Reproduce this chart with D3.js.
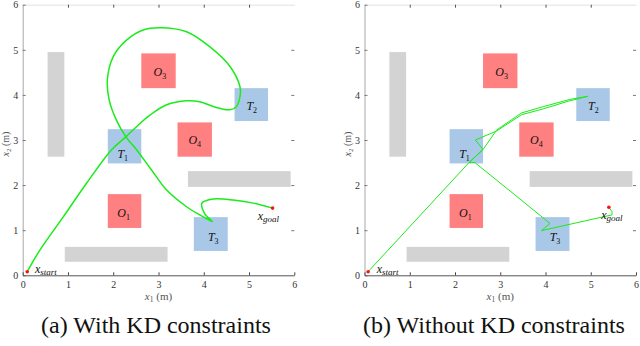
<!DOCTYPE html>
<html>
<head>
<meta charset="utf-8">
<script src="https://cdn.jsdelivr.net/npm/d3@7"></script>
<style>
  body { margin: 0; background: #fff; }
  svg { display: block; }
  text { font-family: "Liberation Serif", "DejaVu Serif", serif; }
</style>
</head>
<body>
<div id="main"></div>
<script>
// axis ticks (both axes 0..6 m)
var ticks = [0, 1, 2, 3, 4, 5, 6];

// gray walls: [x0, x1, y0, y1]
var walls = [[0.55, 0.92, 2.63, 4.95], [0.93, 3.2, 0.3, 0.63], [3.65, 5.92, 1.96, 2.31]];
// red obstacles O_i: [sub, x0, x1, y0, y1]
var obstacles = [["1", 1.88, 2.62, 1.05, 1.80], ["3", 2.62, 3.38, 4.15, 4.92], ["4", 3.42, 4.18, 2.63, 3.39]];
// blue targets T_i: [sub, x0, x1, y0, y1]
var targets = [["1", 1.88, 2.62, 2.48, 3.24], ["2", 4.68, 5.42, 3.42, 4.15], ["3", 3.78, 4.53, 0.54, 1.29]];
// label centres
var obstacleLabels = [[2.23, 1.38], [3.03, 4.51], [3.80, 3.0]];
var targetLabels = [[2.21, 2.70], [5.06, 3.75], [4.21, 0.85]];

var startKD = [0.1, 0.08], goalKD = [5.52, 1.49];
var startNoKD = [0.08, 0.08], goalNoKD = [5.40, 1.51];
var startLabelKD = [0.27, 0.05], goalLabelKD = [5.19, 1.23];
var startLabelNoKD = [0.27, 0.05], goalLabelNoKD = [5.23, 1.24];

// trajectory with KD constraints (smooth)
var pathKD = [[0.1, 0.08], [0.38, 0.56], [0.9, 1.3], [1.41, 2.04], [1.96, 2.78], [2.28, 3.07], [2.52, 3.30],
  [2.81, 3.55], [3.18, 3.78], [3.62, 3.87], [3.91, 3.85], [4.28, 3.72], [4.58, 3.67], [4.72, 3.74],
  [4.80, 3.96], [4.80, 4.18], [4.58, 4.63], [4.13, 5.07], [3.62, 5.40], [3.05, 5.49], [2.66, 5.44],
  [2.30, 5.22], [2.0, 4.85], [1.87, 4.33], [1.91, 3.89], [2.07, 3.44], [2.28, 3.07], [2.52, 2.78],
  [2.85, 2.33], [3.18, 1.89], [3.62, 1.52], [3.91, 1.34], [4.13, 1.22], [4.19, 1.19], [4.02, 1.37],
  [3.96, 1.60], [4.21, 1.69], [4.65, 1.67], [5.09, 1.60], [5.52, 1.49]];

// trajectory without KD constraints (piecewise linear)
var pathNoKD = [[0.08, 0.08], [2.31, 2.50], [2.62, 2.79], [2.92, 3.22], [3.47, 3.60], [3.95, 3.74],
  [4.54, 3.90], [4.94, 3.97], [4.50, 3.86], [3.95, 3.69], [3.47, 3.56], [2.92, 3.20], [2.45, 3.0],
  [2.62, 2.79], [2.31, 2.50], [2.44, 2.50], [4.10, 1.15], [3.91, 0.99], [5.47, 1.34], [5.47, 1.41],
  [5.40, 1.51]];

var captions = ["(a) With KD constraints", "(b) Without KD constraints"];

var svg = d3.select("#main").append("svg")
  .attr("width", 640)
  .attr("height", 346);

var panels = [
  { left: 22.7, right: 294.3, path: pathKD, curve: d3.curveCatmullRom.alpha(0.5), lw: 1.5,
    start: startKD, goal: goalKD, startLabel: startLabelKD, goalLabel: goalLabelKD, caption: captions[0], cx: 156 },
  { left: 364.5, right: 636, path: pathNoKD, curve: d3.curveLinear, lw: 1,
    start: startNoKD, goal: goalNoKD, startLabel: startLabelNoKD, goalLabel: goalLabelNoKD, caption: captions[1], cx: 494 }
];

var serif = '"Liberation Serif", "DejaVu Serif", serif';

panels.forEach(function(p) {
  var x = d3.scaleLinear().domain([0, 6]).range([p.left, p.right]);
  var y = d3.scaleLinear().domain([0, 6]).range([275.3, 4.7]);
  var g = svg.append("g");

  // box / axes
  var top = g.append("g").attr("transform", "translate(0," + y(6) + ")")
    .call(d3.axisTop(x).tickValues(ticks).tickSize(-3).tickSizeOuter(0).tickFormat(""));
  top.select(".domain").attr("stroke", "#e2e2e2");
  top.selectAll(".tick line").attr("stroke", "#555").filter(function(d) { return d == 0 || d == 6; }).remove();

  var rightAx = g.append("g").attr("transform", "translate(" + x(6) + ",0)")
    .call(d3.axisRight(y).tickValues(ticks).tickSize(-3).tickSizeOuter(0).tickFormat(""));
  rightAx.select(".domain").remove();
  rightAx.selectAll(".tick line").attr("stroke", "#777").filter(function(d) { return d == 0 || d == 6; }).remove();

  var leftAx = g.append("g").attr("transform", "translate(" + x(0) + ",0)")
    .call(d3.axisLeft(y).tickValues(ticks).tickSize(-3).tickSizeOuter(0).tickPadding(4.5).tickFormat(d3.format("d")));
  leftAx.select(".domain").attr("stroke", "#a8a8a8");
  leftAx.selectAll(".tick line").attr("stroke", "#777");
  leftAx.selectAll("text").style("font-family", serif).attr("font-size", 10).attr("fill", "#333");

  var bottomAx = g.append("g").attr("transform", "translate(0," + y(0) + ")")
    .call(d3.axisBottom(x).tickValues(ticks).tickSize(-3).tickSizeOuter(0).tickPadding(6).tickFormat(d3.format("d")));
  bottomAx.select(".domain").attr("stroke", "#555");
  bottomAx.selectAll(".tick line").attr("stroke", "#444");
  bottomAx.selectAll("text").style("font-family", serif).attr("font-size", 10).attr("fill", "#333");

  // walls
  g.selectAll(".wall").data(walls).enter().append("rect")
    .attr("class", "wall")
    .attr("x", function(d) { return x(d[0]); })
    .attr("y", function(d) { return y(d[3]); })
    .attr("width", function(d) { return x(d[1]) - x(d[0]); })
    .attr("height", function(d) { return y(d[2]) - y(d[3]); })
    .attr("fill", "#d3d3d3");

  // obstacles and targets
  function boxes(data, labels, letter, color) {
    g.selectAll(".b" + letter).data(data).enter().append("rect")
      .attr("class", "b" + letter)
      .attr("x", function(d) { return x(d[1]); })
      .attr("y", function(d) { return y(d[4]); })
      .attr("width", function(d) { return x(d[2]) - x(d[1]); })
      .attr("height", function(d) { return y(d[3]) - y(d[4]); })
      .attr("fill", color);
    var t = g.selectAll(".l" + letter).data(data).enter().append("text")
      .attr("class", "l" + letter)
      .attr("x", function(d, i) { return x(labels[i][0]); })
      .attr("y", function(d, i) { return y(labels[i][1]) + 4; })
      .attr("text-anchor", "middle")
      .style("font-family", serif)
      .attr("fill", "#111");
    t.append("tspan").attr("font-style", "italic").attr("font-size", 12).text(letter);
    t.append("tspan").attr("font-size", 8).attr("dy", 3).text(function(d) { return d[0]; });
  }
  boxes(obstacles, obstacleLabels, "O", "#ff8080");
  boxes(targets, targetLabels, "T", "#a9c8e8");

  // trajectory
  var line = d3.line().x(function(d) { return x(d[0]); }).y(function(d) { return y(d[1]); }).curve(p.curve);
  g.append("path").datum(p.path)
    .attr("d", line)
    .attr("fill", "none")
    .attr("stroke", "#19ec19")
    .attr("stroke-width", p.lw)
    .attr("stroke-linejoin", "round");

  // start / goal markers
  g.selectAll(".pt").data([p.start, p.goal]).enter().append("circle")
    .attr("cx", function(d) { return x(d[0]); })
    .attr("cy", function(d) { return y(d[1]); })
    .attr("r", 1.8)
    .attr("fill", "#ff1010");

  function xLabel(pos, sub) {
    var t = g.append("text")
      .attr("x", x(pos[0]))
      .attr("y", y(pos[1]))
      .style("font-family", serif)
      .attr("fill", "#111");
    t.append("tspan").attr("font-style", "italic").attr("font-size", 12).text("x");
    t.append("tspan").attr("font-style", "italic").attr("font-size", 9).attr("dy", 2).text(sub);
  }
  xLabel(p.startLabel, "start");
  xLabel(p.goalLabel, "goal");

  // axis labels
  var xl = g.append("text")
    .attr("x", (p.left + p.right) / 2)
    .attr("y", 300)
    .attr("text-anchor", "middle")
    .style("font-family", serif)
    .attr("font-size", 11)
    .attr("fill", "#555");
  xl.append("tspan").attr("font-style", "italic").text("x");
  xl.append("tspan").attr("font-size", 7.5).attr("dy", 2).text("1");
  xl.append("tspan").attr("dy", -2).text(" (m)");

  var yl = g.append("text")
    .attr("transform", "translate(" + (p.left - 13.5) + ",144) rotate(-90)")
    .attr("text-anchor", "middle")
    .style("font-family", serif)
    .attr("font-size", 10)
    .attr("fill", "#555");
  yl.append("tspan").attr("font-style", "italic").text("x");
  yl.append("tspan").attr("font-size", 7).attr("dy", 2).text("2");
  yl.append("tspan").attr("dy", -2).text(" (m)");

  // caption
  svg.append("text")
    .attr("x", p.cx)
    .attr("y", 333)
    .attr("text-anchor", "middle")
    .style("font-family", serif)
    .attr("font-size", 24)
    .attr("fill", "#111")
    .text(p.caption);
});
</script>
</body>
</html>
